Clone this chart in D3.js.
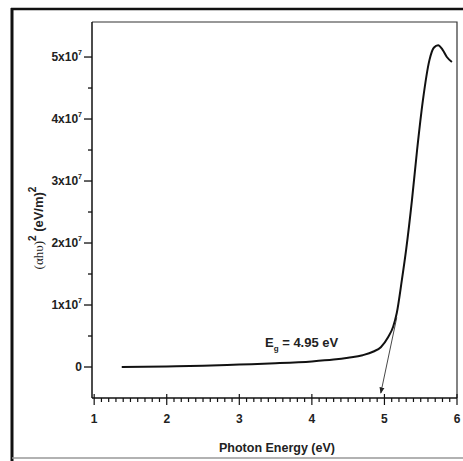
<!DOCTYPE html>
<html>
<head>
<meta charset="utf-8">
<script src="https://cdn.jsdelivr.net/npm/d3@7"></script>
<style>
  body { margin: 0; background: #fff; }
  svg { display: block; font-family: "Liberation Sans", Arial, sans-serif; }
  .tick-label { font-weight: bold; font-size: 12px; fill: #222; }
</style>
</head>
<body>
<div id="chart"></div>
<script>
// photon energy (eV) and (alpha h nu)^2 values in units of 1e7 (eV/m)^2
const energy = [1.38, 2.0, 2.5, 3.0, 3.5, 4.0, 4.3, 4.5, 4.7, 4.85, 4.95, 5.05, 5.12, 5.17, 5.24, 5.3, 5.38, 5.45, 5.53, 5.62, 5.68, 5.74, 5.8, 5.86, 5.93];
const absorb = [0, 0.01, 0.02, 0.04, 0.06, 0.09, 0.12, 0.15, 0.19, 0.25, 0.32, 0.48, 0.65, 0.87, 1.4, 1.9, 2.7, 3.5, 4.3, 4.95, 5.15, 5.19, 5.12, 5.0, 4.92];
const xTicks = [1, 2, 3, 4, 5, 6];
const yTicks = [0, 1, 2, 3, 4, 5];
// tangent line used to read the band gap
const tangentE = [5.17, 4.95];
const tangentY = [0.8, -0.42];
const bandGap = "4.95 eV";

const W = 463, H = 461;
const svg = d3.select('#chart').append('svg')
  .attr('width', W).attr('height', H);

// outer frame
svg.append('line').attr('x1', 12).attr('x2', 12).attr('y1', 8).attr('y2', H)
  .attr('stroke', '#111').attr('stroke-width', 3);
svg.append('line').attr('x1', 11).attr('x2', W).attr('y1', 9).attr('y2', 9)
  .attr('stroke', '#111').attr('stroke-width', 2.5);
svg.append('line').attr('x1', 12).attr('x2', W).attr('y1', 458).attr('y2', 458)
  .attr('stroke', '#999').attr('stroke-width', 1.5);

const x = d3.scaleLinear().domain([0.97, 6.0]).range([92, 457]);
const y = d3.scaleLinear().domain([-0.5, 5.565]).range([398, 22]);

// plot box top / right
svg.append('path')
  .attr('d', `M${x.range()[0]},${y.range()[1]}H${x.range()[1]}V${y.range()[0]}`)
  .attr('fill', 'none').attr('stroke', '#333').attr('stroke-width', 1.2);

// x axis
const xAxis = svg.append('g').attr('transform', `translate(0,${y.range()[0]})`);
xAxis.append('line').attr('x1', x.range()[0]).attr('x2', x.range()[1])
  .attr('stroke', '#111').attr('stroke-width', 1.5);
const xMinor = d3.range(10, 61).map(d => d / 10);
xAxis.selectAll('.minor').data(xMinor).enter().append('line')
  .attr('x1', d => x(d)).attr('x2', d => x(d))
  .attr('y1', d => Number.isInteger(d) ? -4 : 0)
  .attr('y2', d => Number.isInteger(d) ? 7 : 4)
  .attr('stroke', '#111').attr('stroke-width', 1.2);
xAxis.selectAll('.tick-label').data(xTicks).enter().append('text')
  .attr('class', 'tick-label')
  .attr('x', d => x(d)).attr('y', 25)
  .attr('text-anchor', 'middle')
  .text(d => d);
svg.append('text')
  .attr('x', 277).attr('y', 452)
  .attr('text-anchor', 'middle')
  .attr('font-weight', 'bold').attr('font-size', 12.5).attr('fill', '#222')
  .text('Photon Energy (eV)');

// y axis
const yAxis = svg.append('g').attr('transform', `translate(${x.range()[0]},0)`);
yAxis.append('line').attr('y1', y.range()[0]).attr('y2', y.range()[1])
  .attr('stroke', '#111').attr('stroke-width', 1.5);
const yMinor = d3.range(0, 11).map(d => d / 2);
yAxis.selectAll('.ytick').data(yMinor).enter().append('line')
  .attr('y1', d => y(d)).attr('y2', d => y(d))
  .attr('x1', d => Number.isInteger(d) ? -8 : -4).attr('x2', 0)
  .attr('stroke', '#111').attr('stroke-width', 1.3);
const yl = yAxis.selectAll('.tick-label').data(yTicks).enter().append('text')
  .attr('class', 'tick-label')
  .attr('x', -10).attr('y', d => y(d) + 4)
  .attr('text-anchor', 'end');
yl.each(function(d) {
  const t = d3.select(this);
  if (d === 0) { t.text('0'); return; }
  t.append('tspan').text(d + 'x10');
  t.append('tspan').attr('dy', -6).attr('font-size', 7).text('7');
});

// y axis title
const yt = svg.append('text')
  .attr('transform', 'translate(43,228) rotate(-90)')
  .attr('text-anchor', 'middle')
  .attr('font-weight', 'bold').attr('font-size', 13).attr('fill', '#222');
yt.append('tspan').attr('font-family', '"Liberation Serif", serif').attr('font-weight', 'normal').text('(αhυ)');
yt.append('tspan').attr('dy', -7).attr('font-size', 10).text('2');
yt.append('tspan').attr('dy', 7).text(' (eV/m)');
yt.append('tspan').attr('dy', -7).attr('font-size', 10).text('2');

// data curve
const pts = energy.map((e, i) => [e, absorb[i]]);
svg.append('path')
  .datum(pts)
  .attr('fill', 'none').attr('stroke', '#111').attr('stroke-width', 2)
  .attr('d', d3.line().x(d => x(d[0])).y(d => y(d[1])).curve(d3.curveMonotoneX));

// tangent arrow
svg.append('defs').append('marker')
  .attr('id', 'arr').attr('viewBox', '0 0 10 10')
  .attr('refX', 9).attr('refY', 5)
  .attr('markerWidth', 7).attr('markerHeight', 7)
  .attr('orient', 'auto')
  .append('path').attr('d', 'M0,1L10,5L0,9Z').attr('fill', '#222');
svg.append('line')
  .attr('x1', x(tangentE[0])).attr('y1', y(tangentY[0]))
  .attr('x2', x(tangentE[1])).attr('y2', y(tangentY[1]))
  .attr('stroke', '#333').attr('stroke-width', 0.9)
  .attr('marker-end', 'url(#arr)');

// band gap label
const lab = svg.append('text')
  .attr('x', 265).attr('y', 347)
  .attr('font-weight', 'bold').attr('font-size', 13).attr('fill', '#222');
lab.append('tspan').text('E');
lab.append('tspan').attr('dy', 4).attr('font-size', 8).text('g');
lab.append('tspan').attr('dy', -4).text(' = ' + bandGap);
</script>
</body>
</html>
